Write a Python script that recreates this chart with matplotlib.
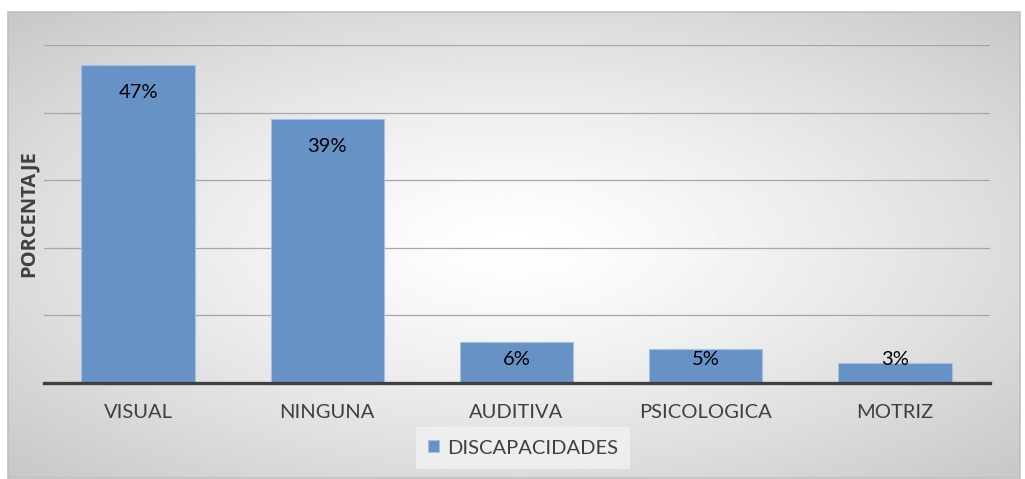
import numpy as np
import matplotlib
matplotlib.use("Agg")
import matplotlib.pyplot as plt
from matplotlib.patches import Rectangle

# datos
categorias = ["VISUAL", "NINGUNA", "AUDITIVA", "PSICOLOGICA", "MOTRIZ"]
porcentajes = [47, 39, 6, 5, 3]
etiquetas = ["47%", "39%", "6%", "5%", "3%"]
serie = "DISCAPACIDADES"

plt.rcParams['font.family'] = ['Lato', 'DejaVu Sans']
gris_txt = '#404040'
azul = '#6692c6'

fig = plt.figure(figsize=(10.25, 4.79), dpi=100)
fig.patch.set_facecolor('white')

# fondo con degradado radial (como en Excel)
bg = fig.add_axes([8/1025, 1/479, 1012/1025, 466/479])
bg.set_axis_off()
yy, xx = np.mgrid[-1:1:300j, -1:1:600j]
r = np.sqrt(xx**2 + yy**2) / np.sqrt(2)
grad = 1.0 - 0.22 * r**1.3
bg.imshow(grad, cmap='gray', vmin=0, vmax=1, aspect='auto',
          extent=[0, 1, 0, 1], interpolation='bilinear')
bg.set_xlim(0, 1)
bg.set_ylim(0, 1)
bg.add_patch(Rectangle((0, 0), 1, 1.0, fill=False, edgecolor='#bfbfbf',
                       linewidth=1.2, transform=bg.transAxes, clip_on=False))

ax = fig.add_axes([43.5/1025, 1-383/479, 946/1025, 338/479])
ax.patch.set_alpha(0)
x = np.arange(len(categorias))
ax.bar(x, porcentajes, width=0.6, color=azul, edgecolor='#a6c0e2',
       linewidth=0.8, zorder=3, label=serie)

ax.set_xlim(-0.5, len(categorias) - 0.5)
ax.set_ylim(0, 50)
ax.set_yticks([10, 20, 30, 40, 50])
ax.yaxis.grid(True, color='#a6a6a6', linewidth=0.9, zorder=0)
ax.tick_params(axis='y', length=0, labelleft=False)
ax.tick_params(axis='x', length=0, pad=15, labelsize=14.5, colors=gris_txt)
ax.set_xticks(x)
ax.set_xticklabels(categorias)
for s in ['top', 'right', 'left']:
    ax.spines[s].set_visible(False)
ax.spines['bottom'].set_color(gris_txt)
ax.spines['bottom'].set_linewidth(2.4)
ax.spines['bottom'].set_zorder(4)

# etiquetas de datos (extremo interno)
for xi, v, t in zip(x, porcentajes, etiquetas):
    ax.text(xi, max(v - 4.0, 3.5), t, ha='center', va='center',
            fontsize=14.5, color='black', zorder=5)

ax.set_ylabel("PORCENTAJE", fontsize=14.5, fontweight='bold', color=gris_txt,
              family=['Open Sans', 'DejaVu Sans'])
ax.yaxis.set_label_coords(-(43.5 - 39) / 946, 0.5)

leg = ax.legend(loc='center', bbox_to_anchor=(523/1025, 1-448/479),
                bbox_transform=fig.transFigure, frameon=True, fontsize=14.5,
                handlelength=0.55, handleheight=0.55, handletextpad=0.4,
                borderpad=0.6, borderaxespad=0, fancybox=False)
leg.get_frame().set_facecolor('#f2f2f2')
leg.get_frame().set_edgecolor('none')
leg.get_frame().set_alpha(0.8)
leg._legend_box.sep = 0
for t in leg.get_texts():
    t.set_color(gris_txt)

fig.savefig("out.png", dpi=100)
